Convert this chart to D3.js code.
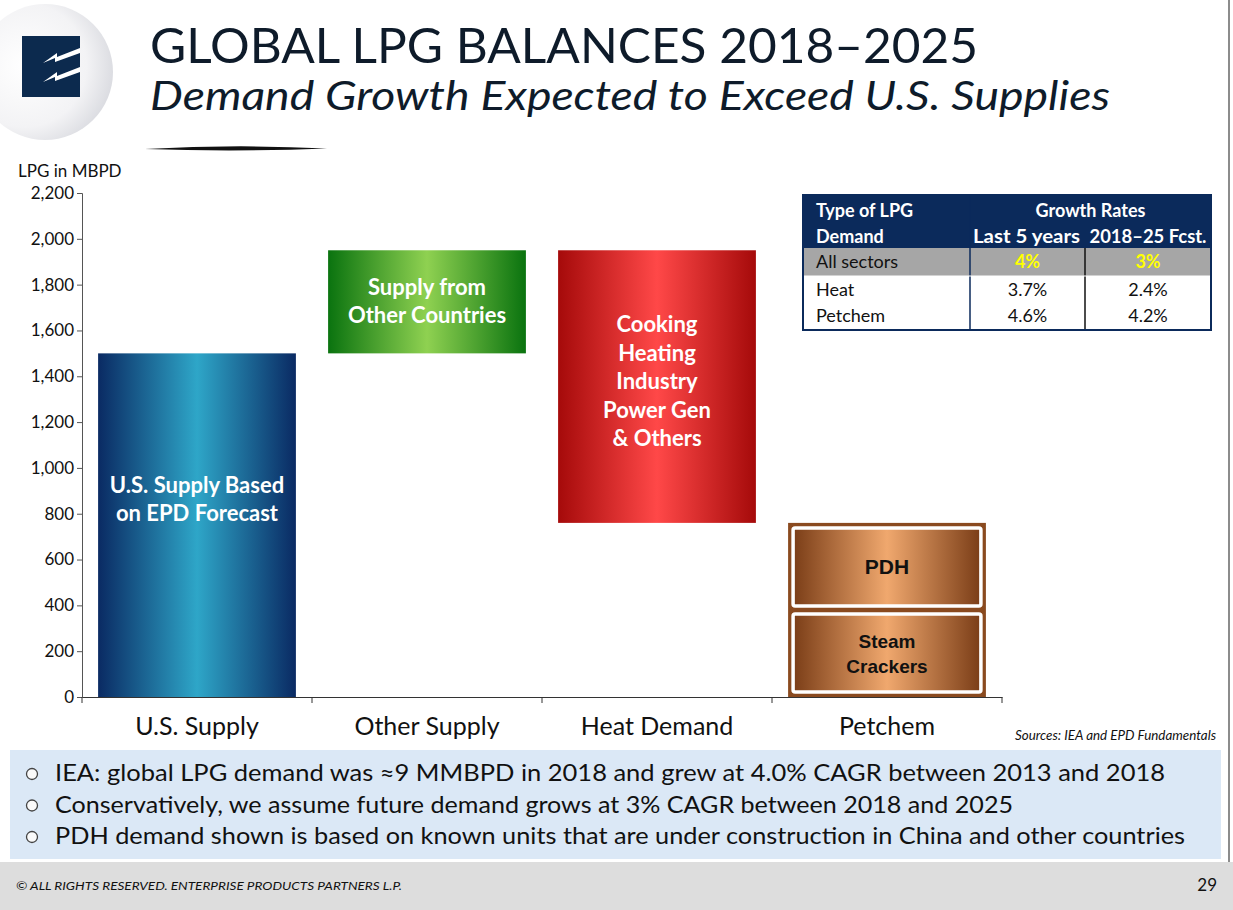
<!DOCTYPE html>
<html>
<head>
<meta charset="utf-8">
<script src="https://cdn.jsdelivr.net/npm/d3@7"></script>
<style>
  body { margin: 0; background: #fff; overflow: hidden; }
  svg { display: block; font-family: Lato, "Open Sans", sans-serif; }
</style>
</head>
<body>
<svg id="slide" width="1233" height="910"></svg>
<script>
const categories = ["U.S. Supply", "Other Supply", "Heat Demand", "Petchem"];
const barStart = [0, 1500, 760, 0];
const barEnd = [1500, 1950, 1950, 760];
const barLabels = [
    ["U.S. Supply Based", "on EPD Forecast"],
    ["Supply from", "Other Countries"],
    ["Cooking", "Heating", "Industry", "Power Gen", "& Others"],
    []
];
const petchemParts = ["Steam Crackers", "PDH"];
const petchemLow = [0, 380];
const petchemHigh = [380, 760];
const yTicks = [0, 200, 400, 600, 800, 1000, 1200, 1400, 1600, 1800, 2000, 2200];

const tableHeader = ["Type of LPG", "Demand", "Growth Rates", "Last 5 years", "2018–25 Fcst."];
const tableRows = ["All sectors", "Heat", "Petchem"];
const lastFive = ["4%", "3.7%", "4.6%"];
const forecast = ["3%", "2.4%", "4.2%"];

const bullets = [
    "IEA:  global LPG demand was ≈9 MMBPD in 2018 and grew at 4.0% CAGR between 2013 and 2018",
    "Conservatively, we assume future demand grows at 3% CAGR between 2018 and 2025",
    "PDH demand shown is based on known units that are under construction in China and other countries"
];

const svg = d3.select("#slide");
const defs = svg.append("defs");

// ---- logo + header ----
const logoGrad = defs.append("radialGradient").attr("id", "logo-grad")
    .attr("cx", "35%").attr("cy", "45%").attr("r", "65%");
logoGrad.append("stop").attr("offset", "0%").attr("stop-color", "#ffffff");
logoGrad.append("stop").attr("offset", "70%").attr("stop-color", "#f3f3f5");
logoGrad.append("stop").attr("offset", "100%").attr("stop-color", "#dcdde2");

svg.append("circle").attr("cx", 45).attr("cy", 72).attr("r", 68).attr("fill", "url(#logo-grad)");
svg.append("rect").attr("x", 22).attr("y", 36).attr("width", 58).attr("height", 61).attr("fill", "#0c2a4e");
[0, 19].forEach(dy => {
    svg.append("path")
       .attr("d", `M43,${63 + dy} L57,${53 + dy} L57,${57 + dy} L80,${48 + dy} L80,${53 + dy} L55,${62 + dy} L55,${58 + dy} Z`)
       .attr("fill", "#fff");
});

svg.append("text").attr("x", 150).attr("y", 63)
   .attr("font-size", 48).attr("fill", "#0e1b2a")
   .attr("textLength", 828).attr("lengthAdjust", "spacingAndGlyphs")
   .text("GLOBAL LPG BALANCES 2018–2025");
svg.append("text").attr("x", 150).attr("y", 110)
   .attr("font-size", 40).attr("font-style", "italic").attr("fill", "#0e1b2a")
   .attr("textLength", 960).attr("lengthAdjust", "spacingAndGlyphs")
   .text("Demand Growth Expected to Exceed U.S. Supplies");

svg.append("path")
   .attr("d", "M145,149 Q236,144 327,148.5 Q236,152 145,149 Z")
   .attr("fill", "#111");

svg.append("line").attr("x1", 1229).attr("x2", 1229).attr("y1", 0).attr("y2", 862)
   .attr("stroke", "#8c8c8c").attr("stroke-width", 2);

// ---- chart ----
const margin = { left: 82, top: 193, right: 1233 - 1002, bottom: 910 - 697 };
const innerWidth = 1002 - margin.left;
const innerHeight = 697 - margin.top;

const g = svg.append("g").attr("transform", `translate(${margin.left},${margin.top})`);

const x = d3.scaleBand().domain(categories).range([0, innerWidth]).paddingInner(0.14).paddingOuter(0.07);
const y = d3.scaleLinear().domain([0, 2200]).range([innerHeight, 0]);

const gradColors = [
    ["#0a2a63", "#2ea6c8"],
    ["#0a730f", "#8fd151"],
    ["#a50a0a", "#ff4848"],
    ["#7a3d17", "#f0a86e"]
];
gradColors.forEach(([edge, mid], i) => {
    const lg = defs.append("linearGradient").attr("id", "bar-grad-" + i)
        .attr("x1", "0%").attr("x2", "100%").attr("y1", "0%").attr("y2", "0%");
    lg.append("stop").attr("offset", "0%").attr("stop-color", edge);
    lg.append("stop").attr("offset", "50%").attr("stop-color", mid);
    lg.append("stop").attr("offset", "100%").attr("stop-color", edge);
});

g.selectAll("rect.bar")
 .data(categories)
 .enter().append("rect")
 .attr("class", "bar")
 .attr("x", d => x(d))
 .attr("y", (d, i) => y(barEnd[i]))
 .attr("width", x.bandwidth())
 .attr("height", (d, i) => y(barStart[i]) - y(barEnd[i]))
 .attr("fill", (d, i) => i === 3 ? "#8a4a1f" : `url(#bar-grad-${i})`);

// petchem inner boxes
const pcx = x("Petchem");
g.selectAll("rect.part")
 .data(petchemParts)
 .enter().append("rect")
 .attr("class", "part")
 .attr("x", pcx + 5)
 .attr("y", (d, i) => y(petchemHigh[i]) + (i === 1 ? 5 : 4))
 .attr("width", x.bandwidth() - 10)
 .attr("height", (d, i) => y(petchemLow[i]) - y(petchemHigh[i]) - 9)
 .attr("rx", 2)
 .attr("fill", "url(#bar-grad-3)")
 .attr("stroke", "#fff")
 .attr("stroke-width", 3.5);

g.append("text")
 .attr("x", pcx + x.bandwidth() / 2).attr("y", y(570) + 8)
 .attr("text-anchor", "middle").attr("font-family", "Liberation Sans, Arial, sans-serif")
 .attr("font-weight", "bold").attr("font-size", 21).attr("fill", "#111")
 .text("PDH");
const sc = g.append("text")
 .attr("text-anchor", "middle").attr("font-family", "Liberation Sans, Arial, sans-serif")
 .attr("font-weight", "bold").attr("font-size", 19).attr("fill", "#111");
["Steam", "Crackers"].forEach((t, k) => {
    sc.append("tspan").attr("x", pcx + x.bandwidth() / 2).attr("y", y(190) - 5 + k * 25).text(t);
});

// bar labels
const labelCenters = [860, 1725, 1373];
barLabels.forEach((lines, i) => {
    if (!lines.length) return;
    const cx = x(categories[i]) + x.bandwidth() / 2;
    const lh = 28.5;
    const top = y(labelCenters[i]) - (lines.length - 1) * lh / 2;
    const t = g.append("text").attr("text-anchor", "middle")
        .attr("font-weight", "bold").attr("font-size", 22).attr("fill", "#fff");
    lines.forEach((s, k) => t.append("tspan").attr("x", cx).attr("y", top + k * lh + 7).text(s));
});

// axes
const yAxis = g.append("g")
    .call(d3.axisLeft(y).tickValues(yTicks).tickFormat(d3.format(",")).tickSizeOuter(0).tickSize(5));
yAxis.select(".domain").attr("stroke", "#555");
yAxis.selectAll("line").attr("stroke", "#555");
yAxis.selectAll("text").attr("font-size", 17).attr("fill", "#111").attr("font-family", "Lato, sans-serif");

const xAxis = g.append("g").attr("transform", `translate(0,${innerHeight})`)
    .call(d3.axisBottom(x).tickSize(0).tickSizeOuter(0).tickPadding(20));
xAxis.select(".domain").attr("stroke", "#333");
xAxis.selectAll("text").attr("font-size", 25).attr("fill", "#111").attr("font-family", "Lato, sans-serif");
const bounds = categories.map(c => x(c) - x.step() * x.paddingInner() / 2).concat([innerWidth]);
bounds[0] = 0;
xAxis.selectAll("line.sep").data(bounds).enter().append("line").attr("class", "sep")
    .attr("x1", d => d).attr("x2", d => d).attr("y1", 0).attr("y2", 6).attr("stroke", "#333");

svg.append("text").attr("x", 18).attr("y", 177).attr("font-size", 17).attr("fill", "#111")
   .text("LPG in MBPD");

// ---- growth table ----
const colX = [803, 970, 1085, 1211];
const rowY = [195, 248, 276, 302, 330];
svg.append("rect").attr("x", colX[0]).attr("y", rowY[0]).attr("width", colX[3] - colX[0])
   .attr("height", rowY[1] - rowY[0]).attr("fill", "#0b2a5b");
svg.append("rect").attr("x", colX[0]).attr("y", rowY[1]).attr("width", colX[3] - colX[0])
   .attr("height", rowY[2] - rowY[1]).attr("fill", "#a6a6a6");
const hdr = svg.append("g").attr("font-weight", "bold").attr("font-size", 18).attr("fill", "#fff");
hdr.append("text").attr("x", 816).attr("y", 217).text(tableHeader[0]);
hdr.append("text").attr("x", 816).attr("y", 243).text(tableHeader[1]);
hdr.append("text").attr("x", (colX[1] + colX[3]) / 2).attr("y", 217).attr("text-anchor", "middle").text(tableHeader[2]);
hdr.append("text").attr("x", (colX[1] + colX[2]) / 2 - 1).attr("y", 243).attr("text-anchor", "middle")
   .attr("textLength", 107).attr("lengthAdjust", "spacingAndGlyphs").text(tableHeader[3]);
hdr.append("text").attr("x", (colX[2] + colX[3]) / 2).attr("y", 243).attr("text-anchor", "middle")
   .attr("textLength", 117).attr("lengthAdjust", "spacingAndGlyphs").text(tableHeader[4]);

tableRows.forEach((r, i) => {
    const yy = rowY[i + 1] + 20;
    const first = i === 0;
    svg.append("text").attr("x", 816).attr("y", yy).attr("font-size", 18).attr("fill", "#111").text(r);
    [lastFive[i], forecast[i]].forEach((v, k) => {
        svg.append("text").attr("x", (colX[k + 1] + colX[k + 2]) / 2).attr("y", yy)
           .attr("text-anchor", "middle").attr("font-size", 18)
           .attr("font-weight", first ? "bold" : "normal")
           .attr("fill", first ? "#ffff00" : "#111").text(v);
    });
});
[colX[1], colX[2]].forEach((cx, k) => {
    svg.append("line").attr("x1", cx).attr("x2", cx)
       .attr("y1", k === 0 ? rowY[0] : rowY[1]).attr("y2", rowY[4])
       .attr("stroke", k === 0 ? "#0b2a5b" : "#111").attr("stroke-width", 1.5);
});
svg.append("line").attr("x1", colX[0]).attr("x2", colX[3]).attr("y1", rowY[2]).attr("y2", rowY[2])
   .attr("stroke", "#fff").attr("stroke-width", 1);
svg.append("rect").attr("x", colX[0]).attr("y", rowY[0]).attr("width", colX[3] - colX[0])
   .attr("height", rowY[4] - rowY[0]).attr("fill", "none").attr("stroke", "#0b2a5b").attr("stroke-width", 2);

svg.append("text").attr("x", 1015).attr("y", 740)
   .attr("font-size", 13).attr("font-style", "italic").attr("fill", "#111")
   .attr("textLength", 201).attr("lengthAdjust", "spacingAndGlyphs")
   .text("Sources:  IEA and EPD Fundamentals");

// ---- bullet box + footer ----
svg.append("rect").attr("x", 10).attr("y", 750).attr("width", 1211).attr("height", 109).attr("fill", "#dbe8f6");
bullets.forEach((b, i) => {
    const by = 781 + i * 31.5;
    svg.append("circle").attr("cx", 32).attr("cy", by - 7).attr("r", 5.5)
       .attr("fill", "#fafafa").attr("stroke", "#444").attr("stroke-width", 1.3);
    svg.append("text").attr("x", 55).attr("y", by).attr("font-size", 23).attr("fill", "#111")
       .attr("textLength", [1110, 958, 1130][i]).attr("lengthAdjust", "spacingAndGlyphs")
       .text(b);
});

svg.append("rect").attr("x", 0).attr("y", 862).attr("width", 1233).attr("height", 48).attr("fill", "#dddddd");
svg.append("text").attr("x", 16).attr("y", 890).attr("font-size", 11).attr("font-style", "italic")
   .attr("fill", "#111").attr("textLength", 386).attr("lengthAdjust", "spacingAndGlyphs")
   .text("© ALL RIGHTS RESERVED. ENTERPRISE PRODUCTS PARTNERS L.P.");
svg.append("text").attr("x", 1217).attr("y", 891).attr("text-anchor", "end")
   .attr("font-size", 17).attr("fill", "#111").text("29");
</script>
</body>
</html>
